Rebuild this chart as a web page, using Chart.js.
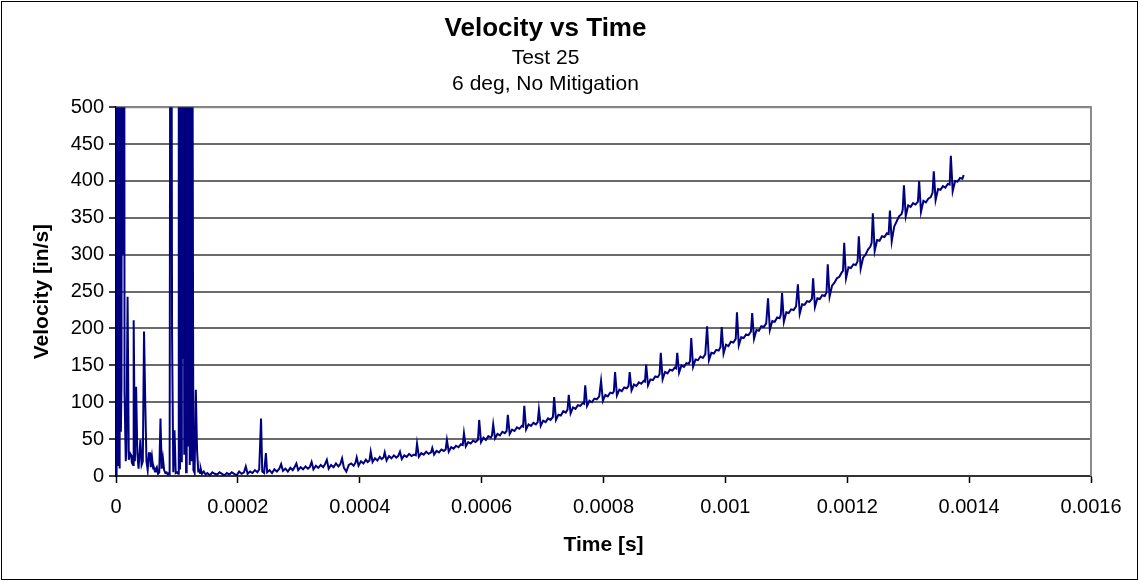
<!DOCTYPE html>
<html>
<head>
<meta charset="utf-8">
<title>Velocity vs Time</title>
<script src="https://cdn.jsdelivr.net/npm/chart.js@4"></script>
<style>
  html, body { margin: 0; padding: 0; background: #fff; }
  #chart { display: block; }
</style>
</head>
<body>
<canvas id="chart" width="1139" height="581"></canvas>
<script>
const chartTitle = "Velocity vs Time"
const chartSubtitle = ["Test 25", "6 deg, No Mitigation"]
const xTitle = "Time [s]"
const yTitle = "Velocity [in/s]"
const xTickLabels = ["0", "0.0002", "0.0004", "0.0006", "0.0008", "0.001", "0.0012", "0.0014", "0.0016"]
const xRange = [0, 0.0016]
const xStep = 0.0002
const yRange = [0, 500]
const yStep = 50

// [time in microseconds, velocity in in/s]
const velocityTrace = [
  [0,0],[1,1200],[2,15],[3,1400],[4,30],[5,1100],[6,10],[7,950],[8,60],[9,122],
  [10,1300],[11,300],[12,1100],[13,1500],[14,114],[16,20],[17,35],[19,243],[21,22],[23,31],
  [25,28],[26,18],[28,15],[29,211],[31,20],[33,121],[35,31],[37,10],[40,49],[42,15],
  [44,20],[46,196],[48,100],[50,20],[52,8],[54,31],[56,31],[57,12],[59,26],[61,10],
  [62,12],[64,6],[65,9],[67,12],[69,3],[71,5],[73,78],[75,10],[77,24],[79,8],
  [81,4],[83,5],[85,2],[87,4],[88,3],[90,1300],[92,191],[94,5],[96,62],[98,4],
  [100,5],[102,3],[103,1100],[104,10],[105,1300],[107,20],[108,1000],[109,159],[110,1400],[112,30],
  [113,1200],[115,5],[116,900],[118,40],[119,1300],[121,15],[122,1000],[124,20],[125,800],[127,8],
  [129,4],[131,117],[133,35],[135,6],[136,8],[138,4],[139,10],[141,3],[144,6],[147,2],
  [150,4],[154,1],[158,5],[162,3],[166,2],[170,5],[174,3],[178,1],[182,4],[186,2],
  [190,5],[194,3],[198,1],[202,6],[206,3],[210,5],[213,13],[216,3],[220,6],[224,4],
  [228,8],[232,5],[235,9],[238,78],[240,6],[243,4],[246,31],[248,5],[252,8],[256,4],
  [260,9],[264,6],[268,10],[271,16],[274,7],[278,10],[282,6],[286,11],[290,8],[293,12],
  [296,17],[299,8],[303,12],[307,9],[311,13],[315,10],[318,12],[321,19],[324,9],[328,14],
  [332,11],[336,15],[340,12],[343,16],[346,22],[349,10],[353,15],[357,12],[361,17],[365,13],
  [368,16],[371,24],[374,11],[378,6],[382,15],[386,17],[390,14],[393,18],
  [395,25],[398,14],[402,20],[406,17],[410,22],[413,19],[416,21],
  [418,33],[421,19],[425,24],[429,21],[433,26],[436,23],[439,25],
  [441,32],[444,21],[448,27],[452,24],[456,28],[460,25],[463,27],
  [466,33],[469,23],[473,28],[477,26],[481,30],[485,27],[489,29],[492,28],
  [494,44],[497,26],[501,31],[505,29],[509,33],[513,30],[517,32],
  [519,38],[522,29],[526,34],[530,32],[534,36],[538,34],[541,36],
  [543,49],[546,33],[550,39],[554,37],[558,41],[562,39],[566,43],[569,42],
  [571,58],[574,40],[578,46],[582,44],[586,48],[590,46],[594,49],
  [596,76],[599,46],[603,52],[607,49],[611,54],[615,52],[617,55],
  [619,70],[622,51],[626,57],[630,55],[634,60],[638,58],[641,61],
  [643,83],[646,57],[650,63],[654,61],[658,66],[662,64],[666,68],[668,67],
  [670,95],[673,63],[677,70],[681,68],[685,72],[689,70],[692,73],
  [694,90],[697,68],[701,75],[705,73],[709,78],[713,76],[717,80],
  [719,107],[722,76],[726,83],[730,82],[734,88],[738,86],[741,90],
  [743,110],[746,85],[750,93],[754,91],[758,96],[762,95],[766,99],[768,98],
  [770,123],[773,95],[777,102],[781,100],[785,105],[789,104],[793,108],
  [796,129],[799,102],[803,110],[807,108],[811,113],[815,112],[817,115],
  [819,141],[822,109],[826,117],[830,115],[834,120],[838,119],[841,122],
  [843,141],[846,116],[850,124],[854,122],[858,127],[862,125],[866,129],[868,128],
  [870,151],[873,123],[877,131],[881,130],[885,135],[889,134],[892,138],
  [894,167],[897,131],[901,141],[905,139],[909,144],[913,143],[917,147],[919,146],
  [921,167],[924,140],[928,150],[932,148],[936,153],[940,152],[942,156],
  [944,187],[947,148],[951,158],[955,157],[959,162],[963,160],[967,165],
  [970,203],[973,157],[977,167],[981,166],[985,171],[989,170],[992,175],
  [994,202],[997,166],[1001,178],[1005,176],[1009,182],[1013,181],[1017,186],
  [1019,222],[1022,177],[1026,188],[1030,187],[1034,192],[1038,191],[1042,196],
  [1044,221],[1047,186],[1051,198],[1055,197],[1059,203],[1063,202],[1067,207],
  [1070,241],[1073,198],[1077,210],[1081,209],[1085,215],[1089,214],[1091,219],
  [1093,248],[1096,209],[1100,222],[1104,221],[1108,226],[1112,225],[1116,230],
  [1119,260],[1122,220],[1126,233],[1130,232],[1134,237],[1138,236],[1142,240],
  [1144,268],[1147,229],[1151,241],[1155,240],[1159,245],[1163,244],[1166,249],
  [1168,287],[1171,243],[1175,258],[1179,262],[1183,268],[1187,270],[1191,276],[1193,278],
  [1195,316],[1198,268],[1202,283],[1206,282],[1210,287],[1214,286],[1217,291],
  [1219,325],[1222,281],[1226,296],[1230,300],[1234,307],[1238,311],[1240,316],
  [1242,356],[1245,305],[1249,320],[1253,319],[1257,325],[1261,324],[1265,329],[1268,328],
  [1270,360],[1273,318],[1277,338],[1281,345],[1285,352],[1289,355],[1291,361],
  [1293,394],[1296,352],[1300,367],[1304,365],[1308,370],[1312,368],[1316,372],
  [1318,400],[1321,358],[1325,373],[1329,371],[1333,376],[1337,378],[1340,384],
  [1342,413],[1345,374],[1349,389],[1353,388],[1357,393],[1361,391],[1365,396],[1368,395],
  [1370,434],[1373,386],[1377,400],[1381,399],[1385,404],[1389,403],[1391,408]
]

Chart.defaults.font.family = "'Liberation Sans', Arial, sans-serif"
Chart.defaults.color = "#000"

// grey plot-area edge on the right/top and the black outer chart border
const frame = {
  id: "frame",
  beforeDatasetsDraw(chart) {
    const {ctx, chartArea: a} = chart
    ctx.save()
    ctx.strokeStyle = "#8a8a8a"
    ctx.lineWidth = 2
    ctx.beginPath()
    ctx.moveTo(a.left, a.top)
    ctx.lineTo(a.right, a.top)
    ctx.lineTo(a.right, a.bottom)
    ctx.stroke()
    ctx.restore()
  },
  afterDraw(chart) {
    const ctx = chart.ctx
    ctx.save()
    ctx.strokeStyle = "#000"
    ctx.lineWidth = 1
    ctx.strokeRect(1.5, 1.5, chart.width - 3, chart.height - 3)
    ctx.restore()
  }
}

new Chart(document.getElementById("chart"), {
  type: "line",
  data: {
    datasets: [
      {
        data: velocityTrace.map(([t, v]) => ({x: t / 1e6, y: v})),
        borderColor: "#000080",
        borderWidth: 2,
        pointRadius: 0,
        tension: 0,
        fill: false
      }
    ]
  },
  options: {
    responsive: false,
    animation: false,
    layout: {
      padding: {left: 0, right: 48, top: 0, bottom: 0}
    },
    plugins: {
      legend: {display: false},
      tooltip: {enabled: false},
      title: {
        display: true,
        text: chartTitle,
        font: {size: 26, weight: "bold", lineHeight: 1.2},
        padding: {top: 13, bottom: 0}
      },
      subtitle: {
        display: true,
        text: chartSubtitle,
        font: {size: 21, lineHeight: 26 / 21},
        padding: {top: 1, bottom: 10}
      }
    },
    scales: {
      x: {
        type: "linear",
        min: xRange[0],
        max: xRange[1],
        ticks: {
          stepSize: xStep,
          autoSkip: false,
          maxRotation: 0,
          padding: 12,
          font: {size: 20},
          callback: (value, index) => xTickLabels[index]
        },
        grid: {
          drawOnChartArea: false,
          drawTicks: true,
          tickLength: 7,
          tickColor: "#000",
          tickWidth: 1.5
        },
        border: {color: "#333", width: 2},
        title: {
          display: true,
          text: xTitle,
          font: {size: 21, weight: "bold", lineHeight: 1.2},
          padding: {top: 0, bottom: 23}
        },
        afterFit(scale) { scale.height = 105 }
      },
      y: {
        min: yRange[0],
        max: yRange[1],
        ticks: {
          stepSize: yStep,
          padding: 5,
          font: {size: 20}
        },
        grid: {
          color: "#6b6b6b",
          lineWidth: 2,
          tickLength: 7,
          tickColor: "#000",
          tickWidth: 1.5
        },
        border: {color: "#000", width: 2},
        title: {
          display: true,
          text: yTitle,
          font: {size: 21, weight: "bold", lineHeight: 1.2},
          padding: {top: 30, bottom: 0}
        },
        afterFit(scale) { scale.width = 116 }
      }
    }
  },
  plugins: [frame]
})
</script>
</body>
</html>
